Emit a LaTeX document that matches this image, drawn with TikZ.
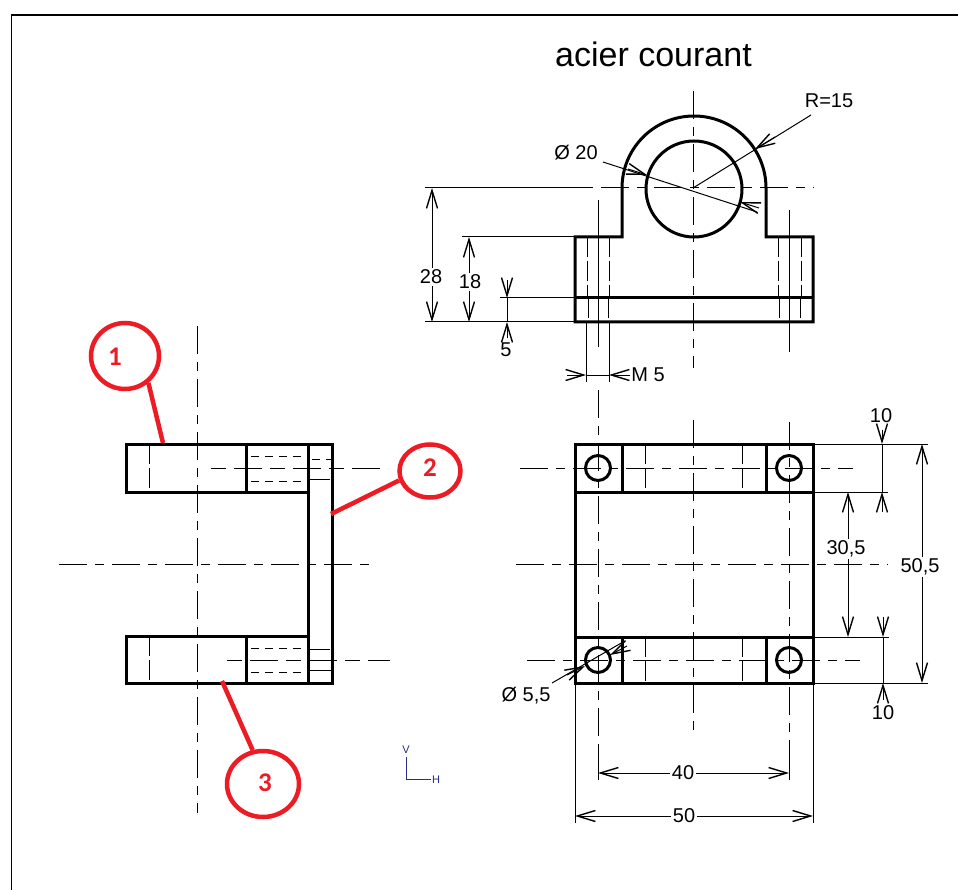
\documentclass[tikz,border=0pt]{standalone}
\usepackage{fontspec}
\setmainfont{Liberation Sans}
\newfontfamily\calloutfont{Carlito}
\usetikzlibrary{arrows.meta,shapes.geometric}
\definecolor{callred}{HTML}{ED1C24}
\definecolor{axisblue}{HTML}{2B2B8C}
\tikzset{
  x=1pt,y=-1pt,
  thickline/.style={line width=3pt,line cap=butt,line join=miter},
  thinline/.style={line width=1pt},
  centreline/.style={line width=1pt,dash pattern=on 28pt off 8pt on 9pt off 8pt},
  hiddenshort/.style={line width=1pt,dash pattern=on 8pt off 6pt},
  hiddenlong/.style={line width=1pt,dash pattern=on 20pt off 4pt},
  dimline/.style={line width=1pt,arrows={Straight Barb[length=18pt,width=11pt,line width=1.4pt]-Straight Barb[length=18pt,width=11pt,line width=1.4pt]}},
  dimtip/.style={line width=1pt,arrows={-Straight Barb[length=18pt,width=11pt,line width=1.4pt]}},
  plainlabel/.style={font=\fontsize{20}{20}\selectfont,inner sep=0pt},
  dimlabel/.style={font=\fontsize{20}{20}\selectfont,fill=white,inner sep=1.5pt},
  calloutcircle/.style={draw=callred,line width=4.5pt,shape=ellipse,inner sep=0pt},
  calloutline/.style={draw=callred,line width=4.5pt},
  calloutlabel/.style={text=callred,font=\calloutfont\bfseries\fontsize{27}{27}\selectfont,inner sep=0pt},
  axislabel/.style={text=axisblue,font=\fontsize{11}{11}\selectfont,inner sep=0pt},
}
\begin{document}
\begin{tikzpicture}
\useasboundingbox (0,0) rectangle (958,890);
\fill[white] (0,0) rectangle (958,890);
% frame
\draw[line width=1.3pt] (11.5,890) -- (11.5,15) -- (958,15);
\node[font=\fontsize{34}{34}\selectfont,inner sep=0pt] (title) at (653.5,54) {acier courant};

% ---------- top right view ----------
\draw[centreline] (693,91) -- (693,368);
\draw[thinline] (425,188) -- (584,188);
\draw[line width=1pt,dash pattern=on 9pt off 8pt on 28pt off 8pt] (584,188) -- (814,188);
\draw[thinline] (598,200) -- (598,347);
\draw[thinline] (789,210) -- (789,352);
\draw[hiddenlong] (587,237) -- (587,298);
\draw[hiddenlong] (609,237) -- (609,298);
\draw[hiddenlong] (778,237) -- (778,298);
\draw[hiddenlong] (801,237) -- (801,298);
\draw[hiddenlong] (588,298) -- (588,322);
\draw[hiddenlong] (608,298) -- (608,322);
\draw[hiddenlong] (779,298) -- (779,322);
\draw[hiddenlong] (800,298) -- (800,322);
\draw[thickline] (575,322) -- (575,237) -- (622,237) -- (622,188) arc[start angle=180,end angle=360,radius=72] -- (766,237) -- (813,237) -- (813,322) -- cycle;
\draw[thickline] (575,298) -- (813,298);
\draw[thickline] (694,189) circle[radius=48];
% extension lines
\draw[thinline] (425,322) -- (575,322);
\draw[thinline] (462,237) -- (575,237);
\draw[thinline] (500,298) -- (575,298);
\draw[thinline] (586,322) -- (586,382);
\draw[thinline] (609,322) -- (609,382);
% dims
\draw[dimline] (432,188) -- (432,322);
\draw[dimline] (469,237) -- (469,322);
\node[dimlabel] (d28) at (431,277) {28};
\node[dimlabel] (d18) at (470,282) {18};
\draw[thinline] (507,298) -- (507,322);
\draw[dimtip] (507,280) -- (507,298);
\draw[dimtip] (507,338) -- (507,322);
\node[plainlabel] (d5) at (506,350) {5};
\draw[dimtip] (567,375) -- (586,375);
\draw[dimtip] (630,375) -- (609,375);
\draw[thinline] (586,375) -- (609,375);
\node[plainlabel] (dm5) at (648,375) {M 5};
% R=15
\node[plainlabel] (r15) at (829,101) {R=15};
\draw[thinline] (811,115) -- (693,188);
\draw[dimtip] (775,137) -- (755,149);
% dia 20
\node[plainlabel] (d20) at (576,153) {Ø 20};
\draw[thinline] (603,162) -- (757,212);
\draw[dimtip] (628,169) -- (647,175);
\draw[dimtip] (759,208) -- (740,202);

% ---------- bottom right view ----------
\draw[centreline] (693,420) -- (693,737);
\draw[centreline] (598,390) -- (598,760);
\draw[thinline] (598,745) -- (598,780);
\draw[centreline] (789,422) -- (789,760);
\draw[thinline] (789,745) -- (789,780);
\draw[centreline] (520,468) -- (853,468);
\draw[centreline] (527,660) -- (860,660);
\draw[centreline] (516,564) -- (888,564);
\draw[hiddenlong] (645,444) -- (645,492);
\draw[hiddenlong] (742,444) -- (742,492);
\draw[hiddenlong] (645,637) -- (645,683);
\draw[hiddenlong] (742,637) -- (742,683);
\draw[thickline] (575,444) rectangle (813,683);
\draw[thickline] (575,492) -- (813,492);
\draw[thickline] (575,637) -- (813,637);
\draw[thickline] (622,444) -- (622,492);
\draw[thickline] (766,444) -- (766,492);
\draw[thickline] (622,637) -- (622,683);
\draw[thickline] (766,637) -- (766,683);
\foreach \cx/\cy in {598/468,789/468,598/660,789/660}
  \draw[thickline] (\cx,\cy) circle[radius=12.5];
% extension lines
\draw[thinline] (813,444) -- (928,444);
\draw[thinline] (813,492) -- (888,492);
\draw[thinline] (813,637) -- (889,637);
\draw[thinline] (813,683) -- (928,683);
\draw[thinline] (575,683) -- (575,823);
\draw[thinline] (813,683) -- (813,823);
% dims
\draw[thinline] (882,444) -- (882,492);
\draw[dimtip] (882,430) -- (882,444);
\draw[dimtip] (882,512) -- (882,492);
\node[plainlabel] (d10a) at (881,416) {10};
\draw[thinline] (883,637) -- (883,683);
\draw[dimtip] (883,617) -- (883,637);
\draw[dimtip] (883,700) -- (883,683);
\node[plainlabel] (d10b) at (883,713) {10};
\draw[dimline] (848,492) -- (848,637);
\node[dimlabel] (d305) at (846,549) {30,5};
\draw[dimline] (922,444) -- (922,683);
\node[dimlabel] (d505) at (920,567) {50,5};
\draw[dimline] (598,773) -- (789,773);
\node[dimlabel] (d40) at (683,773) {40};
\draw[dimline] (575,816) -- (813,816);
\node[dimlabel] (d50) at (684,816) {50};
% dia 5,5
\node[plainlabel] (d55) at (526,696) {Ø 5,5};
\draw[thinline] (552,683) -- (623,642);
\draw[dimtip] (567,675) -- (585,666);
\draw[dimtip] (627,646) -- (610,655);

% ---------- left view ----------
\draw[centreline] (197,326) -- (197,813);
\draw[centreline] (59,564) -- (373,564);
\draw[line width=1pt,dash pattern=on 15pt off 8pt on 28pt off 8pt] (211,468) -- (388,468);
\draw[line width=1pt,dash pattern=on 15pt off 8pt on 28pt off 8pt] (227,660) -- (390,660);
\draw[hiddenlong] (149,444) -- (149,492);
\draw[hiddenlong] (149,636) -- (149,683);
\draw[hiddenshort] (251,456) -- (308,456);
\draw[hiddenshort] (251,481) -- (308,481);
\draw[hiddenshort] (312,459) -- (336,459);
\draw[thinline] (309,479) -- (330,479);
\draw[hiddenshort] (251,648) -- (308,648);
\draw[hiddenshort] (251,672) -- (308,672);
\draw[thinline] (309,649) -- (330,649);
\draw[thinline] (309,670) -- (334,670);
\draw[thickline] (308,492) -- (126,492) -- (126,444) -- (332,444) -- (332,683) -- (126,683) -- (126,636) -- (308,636);
\draw[thickline] (308,444) -- (308,683);
\draw[thickline] (246,444) -- (246,492);
\draw[thickline] (246,636) -- (246,683);

% ---------- callouts ----------
\node[calloutcircle,minimum width=68pt,minimum height=66pt] (c1) at (125,356) {};
\node[calloutcircle,minimum width=61pt,minimum height=53pt] (c2) at (430,471) {};
\node[calloutcircle,minimum width=72pt,minimum height=66pt] (c3) at (263,784) {};
\node[calloutlabel] (l1) at (115,357) {1};
\node[calloutlabel] (l2) at (430,468) {2};
\node[calloutlabel] (l3) at (265,783) {3};
\coordinate (e1) at (163,443);
\coordinate (e2) at (331,514);
\coordinate (e3) at (222,681);
\draw[calloutline] (c1.-49) -- (e1);
\draw[calloutline] (c2.197) -- (e2);
\draw[calloutline] (c3.107) -- (e3);

% ---------- axis ----------
\node[axislabel] (axV) at (406,750) {V};
\node[axislabel] (axH) at (436,780) {H};
\coordinate (axO) at (406.5,779);
\draw[axisblue,line width=1pt] (406.5,757) -- (axO) -- (431,779);
\end{tikzpicture}
\end{document}
